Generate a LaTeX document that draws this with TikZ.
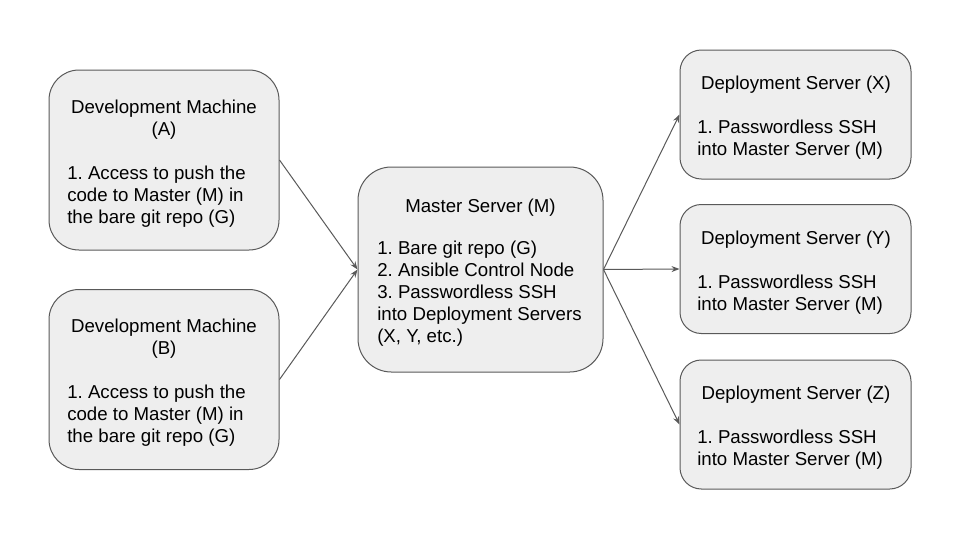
\documentclass[tikz,border=0pt]{standalone}
\usepackage{fontspec}
\setmainfont{Liberation Sans}
\usetikzlibrary{arrows.meta}
\definecolor{boxfill}{HTML}{EEEEEE}
\definecolor{edgecol}{HTML}{595959}
\newcommand{\st}{\rule{0pt}{11pt}}
\frenchspacing
\begin{document}
\frenchspacing
\begin{tikzpicture}[x=0.75pt,y=-0.75pt,
  box/.style={draw=edgecol, fill=boxfill, line width=0.75pt, inner sep=0pt},
  devbox/.style={box, rounded corners=22.5pt, minimum width=172.5pt, minimum height=135pt},
  masterbox/.style={box, rounded corners=25pt, minimum width=183.75pt, minimum height=153.75pt},
  depbox/.style={box, rounded corners=16pt, minimum width=173.25pt, minimum height=96.75pt},
  ttl/.style={anchor=north, inner sep=0pt, align=center, font=\fontsize{14}{16.5}\selectfont\frenchspacing},
  body/.style={anchor=north west, inner sep=0pt, align=left, font=\fontsize{14}{16.5}\selectfont\frenchspacing},
  conn/.style={draw=edgecol, line width=0.75pt, -{Stealth[length=6pt,width=4.5pt]}}]
\path[use as bounding box] (0,0) rectangle (960,540);

% boxes
\node[devbox] (dA) at (164,160) {};
\node[devbox] (dB) at (164,379.5) {};
\node[masterbox] (M) at (480.5,269.5) {};
\node[depbox] (X) at (795.5,114.5) {};
\node[depbox] (Y) at (795.5,269) {};
\node[depbox] (Z) at (795.5,424.5) {};

% texts
\node[ttl] (dAt) at (164,98.3) {\st Development Machine\\(A)};
\node[body] (dAb) at (67,164.3) {\st 1. Access to push the\\code to Master (M) in\\the bare git repo (G)};
\node[ttl] (dBt) at (164,317.8) {\st Development Machine\\(B)};
\node[body] (dBb) at (67,383.8) {\st 1. Access to push the\\code to Master (M) in\\the bare git repo (G)};

\node[ttl] (Mt) at (480.5,197.3) {\st Master Server (M)};
\node[body] (Mb) at (377,239.3) {\st 1. Bare git repo (G)\\2. Ansible Control Node\\3. Passwordless SSH\\into Deployment Servers\\(X, Y, etc.)};

\node[ttl] (Xt) at (796,74.3) {\st Deployment Server (X)};
\node[body] (Xb) at (697,118.3) {\st 1. Passwordless SSH\\into Master Server (M)};
\node[ttl] (Yt) at (796,229.8) {\st Deployment Server (Y)};
\node[body] (Yb) at (697,273.8) {\st 1. Passwordless SSH\\into Master Server (M)};
\node[ttl] (Zt) at (796,384.3) {\st Deployment Server (Z)};
\node[body] (Zb) at (697,428.3) {\st 1. Passwordless SSH\\into Master Server (M)};

% connectors
\draw[conn] (dA.east) -- (M.west);
\draw[conn] (dB.east) -- (M.west);
\draw[conn] (M.east) -- (X.west);
\draw[conn] (M.east) -- (Y.west);
\draw[conn] (M.east) -- (Z.west);
\end{tikzpicture}
\end{document}
